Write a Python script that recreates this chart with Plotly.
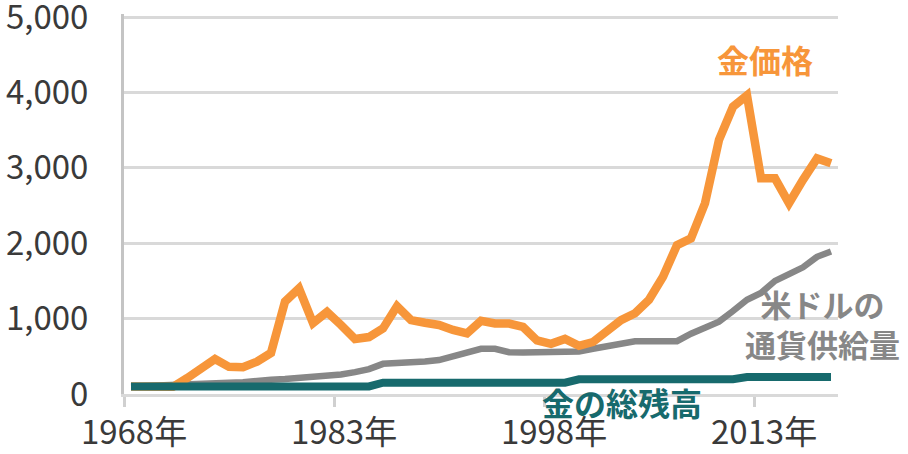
import plotly.graph_objects as go

years = list(range(1968, 2019))

gold_price = [100, 90, 85, 95, 210, 340, 465, 360, 355, 430,
              545, 1225, 1400, 940, 1090, 915, 730, 755, 870, 1165,
              980, 945, 915, 850, 805, 970, 935, 935, 890, 710,
              665, 730, 640, 690, 830, 980, 1070, 1250, 1555, 1975,
              2065, 2530, 3370, 3810, 3960, 2860, 2860, 2530, 2840, 3125,
              3060]

money_supply = [100, 110, 115, 125, 135, 140, 145, 150, 155, 180,
                190, 200, 210, 225, 240, 260, 290, 330, 400, 405,
                405, 430, 450, 500, 560, 600, 600, 555, 550, 550,
                550, 555, 565, 600, 640, 675, 700, 700, 700, 700,
                800, 880, 960, 1100, 1250, 1340, 1500, 1590, 1680, 1820,
                1890]

gold_stock = [100] * 18 + [150] * 14 + [195] * 12 + [225] * 7

tick_years = [1968, 1983, 1998, 2013]
tick_labels = ["1968年", "1983年", "1998年", "2013年"]
y_ticks = [0, 1000, 2000, 3000, 4000, 5000]

ORANGE = "#F7963A"
GRAY = "#878787"
TEAL = "#176A6D"
FONT = "Noto Sans CJK JP"

fig = go.Figure()
fig.add_trace(go.Scatter(x=years, y=money_supply, mode="lines",
                         line=dict(color=GRAY, width=6.5), name="米ドルの通貨供給量"))
fig.add_trace(go.Scatter(x=years, y=gold_price, mode="lines",
                         line=dict(color=ORANGE, width=8.5), name="金価格"))
fig.add_trace(go.Scatter(x=years, y=gold_stock, mode="lines",
                         line=dict(color=TEAL, width=8), name="金の総残高"))

fig.add_annotation(x=2013.3, y=4440, text="<b>金価格</b>", showarrow=False,
                   font=dict(family=FONT, size=32, color=ORANGE), xanchor="center", yanchor="middle")
fig.add_annotation(x=2017.4, y=940, text="<b>米ドルの<br>通貨供給量</b>", showarrow=False,
                   font=dict(family=FONT, size=31, color=GRAY), xanchor="center", yanchor="middle",
                   align="center")
fig.add_annotation(x=2003.1, y=-0.02, yref="paper", text="<b>金の総残高</b>", showarrow=False,
                   font=dict(family=FONT, size=32, color=TEAL), xanchor="center", yanchor="middle")

fig.update_layout(
    width=908, height=454,
    margin=dict(l=124, r=70, t=14, b=60, autoexpand=False),
    paper_bgcolor="white", plot_bgcolor="white",
    showlegend=False,
    font=dict(family=FONT, size=33, color="#3a3a3a"),
    xaxis=dict(range=[1967.5, 2018.5], tickmode="array", tickvals=tick_years, ticktext=tick_labels,
               ticks="", showgrid=False, zeroline=False, automargin=False,
               showline=True, linecolor="#d9d9d9", linewidth=3,
               ticklabelstandoff=7, ticklabelshift=3, ticklabeloverflow="allow",
               minor=dict(tickmode="array", tickvals=[v - 0.5 for v in tick_years],
                          ticks="outside", ticklen=10, tickwidth=3, tickcolor="#d0d0d0", showgrid=False)),
    yaxis=dict(range=[0, 5040], tickmode="array", tickvals=y_ticks, tickformat=",",
               showgrid=True, gridcolor="#d9d9d9", gridwidth=3, zeroline=False, automargin=False,
               showline=True, linecolor="#c4c4c4", linewidth=3,
               ticks="", ticklabelstandoff=26, ticklabeloverflow="allow"),
)

fig.write_html("out.html", config={"displayModeBar": False},
               post_script="document.body.style.margin='0';")
